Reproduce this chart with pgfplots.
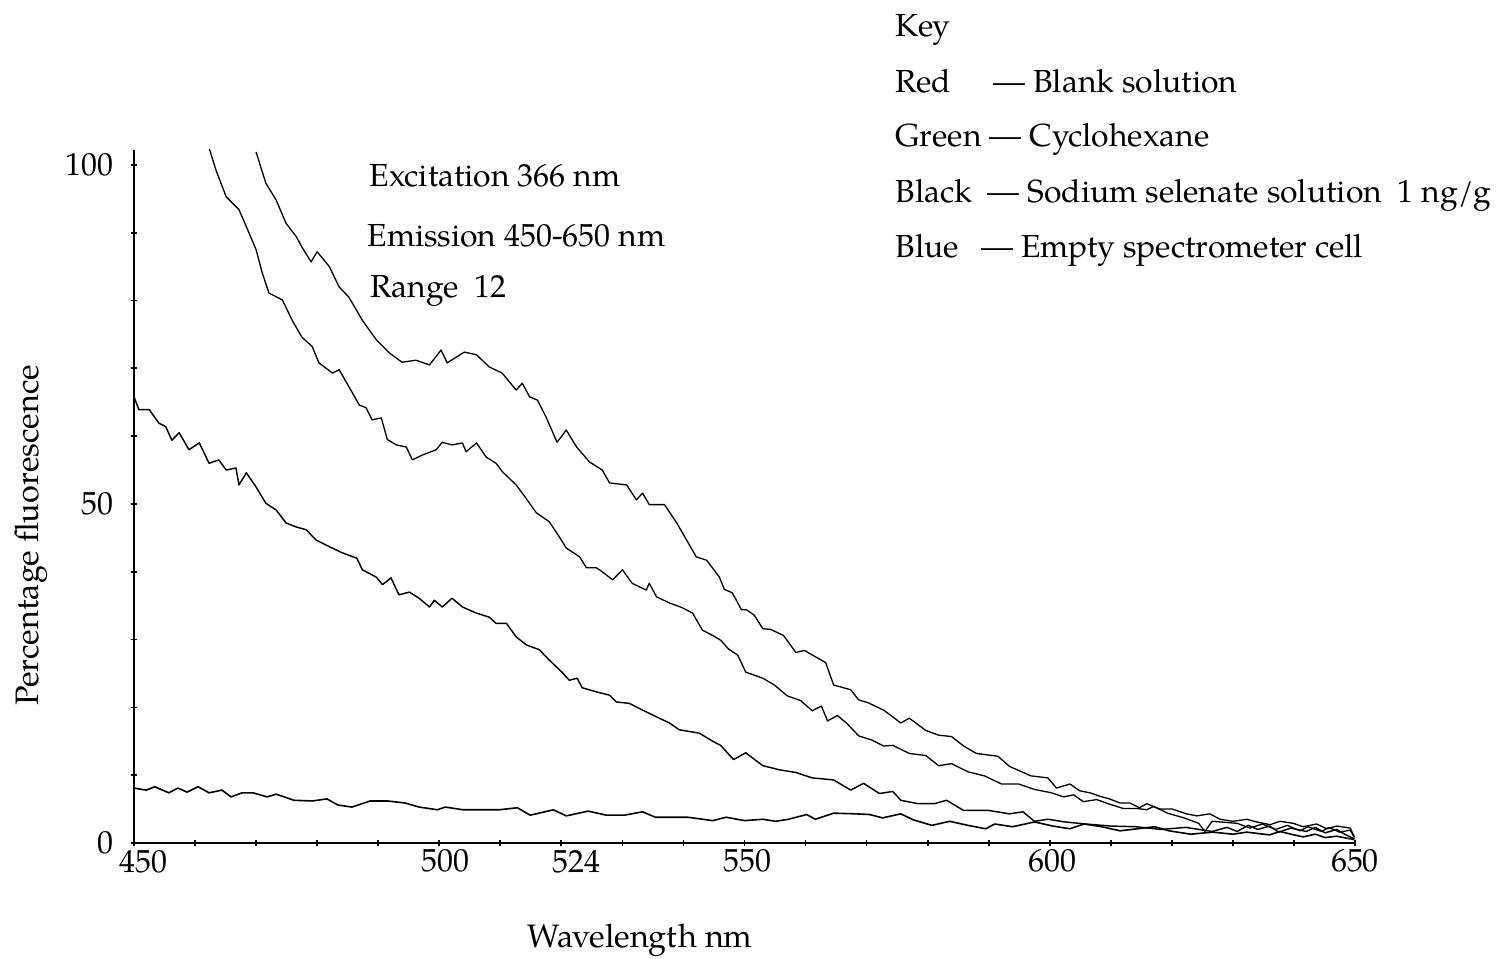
\documentclass[border=0pt]{standalone}
\usepackage{fontspec}
\setmainfont{texgyrepagella}[Extension=.otf,UprightFont=*-regular,BoldFont=*-bold,ItalicFont=*-italic,BoldItalicFont=*-bolditalic]
\usepackage{pgfplots}
\usepackage{pgfplotstable}
\pgfplotsset{compat=1.18}

\pgfplotstableread{
x y
470.0 101.9
471.6 97.3
473.3 94.8
474.9 91.4
476.6 89.4
477.5 87.9
479.0 85.7
480.0 87.2
482.0 85.0
483.6 82.0
485.2 80.5
487.4 77.1
489.7 74.2
491.8 72.3
493.9 70.9
496.2 71.2
498.4 70.5
500.3 72.7
501.3 70.8
504.1 72.4
506.1 72.0
508.2 70.2
510.3 69.3
512.6 66.8
513.6 67.8
514.8 65.8
516.1 65.3
517.5 62.8
519.3 59.1
520.8 60.9
522.5 58.4
524.6 56.2
526.7 55.0
527.9 53.1
530.7 52.8
532.3 50.6
533.3 51.6
534.4 49.9
536.9 49.9
538.9 47.2
540.5 44.7
542.1 42.2
543.8 41.7
545.9 39.2
546.7 37.4
548.0 36.9
549.5 34.4
550.3 34.4
551.6 33.6
553.0 31.6
554.3 31.5
556.4 30.6
558.4 28.1
559.8 28.4
563.3 26.6
564.6 23.3
567.4 22.6
568.7 21.1
570.2 20.7
572.8 19.6
575.6 17.7
577.0 18.4
579.7 16.6
581.8 15.9
583.9 15.7
585.9 14.3
588.0 13.2
591.5 12.8
593.4 11.3
596.9 9.9
599.7 9.6
601.1 8.1
603.3 8.7
604.9 7.7
606.6 7.4
608.2 6.9
609.8 6.5
611.5 5.9
613.1 5.9
614.7 5.2
615.9 5.8
618.0 5.0
620.1 5.0
622.4 4.3
624.1 4.0
626.2 4.3
627.9 3.5
630.0 3.2
632.3 3.5
633.9 3.1
636.1 2.7
637.7 3.2
639.9 2.9
641.5 2.4
643.7 2.8
645.4 2.1
647.0 2.5
649.2 2.2
649.9 0.9
}\curveA

\pgfplotstableread{
x y
462.3 102.5
463.4 99.3
465.1 95.3
467.2 93.4
468.4 90.9
470.0 87.5
471.0 84.1
472.1 81.1
474.3 80.1
475.9 77.1
477.5 74.6
479.2 73.2
480.3 70.8
482.5 69.3
483.6 69.8
485.2 67.3
486.9 64.6
488.0 64.2
489.0 62.4
490.5 62.7
491.5 59.5
493.0 58.7
494.6 58.4
495.6 56.5
497.2 57.2
499.5 58.0
500.5 59.1
502.1 58.7
503.8 59.0
504.4 57.7
506.1 59.0
507.7 56.9
509.3 56.0
510.3 54.8
512.6 52.8
513.6 51.6
515.9 48.7
518.0 47.4
519.7 45.1
520.8 43.5
523.0 42.2
524.1 40.6
525.7 40.6
526.7 40.0
528.4 38.8
530.0 40.3
531.6 38.3
533.9 37.3
534.4 38.3
535.6 36.3
537.7 35.4
539.8 34.7
541.5 33.9
543.1 31.4
544.8 30.6
546.1 29.9
547.4 28.6
548.9 27.7
550.2 25.2
553.0 24.3
554.9 23.3
557.0 21.7
559.2 21.0
561.1 19.5
562.6 20.2
563.6 18.0
565.2 18.8
566.7 17.7
568.7 15.8
570.8 15.2
572.8 14.3
574.3 14.4
577.0 13.2
579.7 12.9
581.8 11.4
583.9 11.7
586.6 10.5
589.3 9.9
592.1 8.7
594.9 8.7
597.5 7.9
600.3 7.4
602.3 6.8
603.9 7.1
605.5 6.1
607.7 6.4
609.9 5.7
612.0 5.1
614.2 5.1
615.9 4.9
617.0 5.4
619.3 4.4
622.0 3.7
624.4 2.9
625.4 1.7
626.6 3.2
630.7 2.9
632.8 2.2
634.8 2.8
637.0 2.0
638.9 2.6
641.0 1.8
642.3 2.4
644.5 1.7
645.7 2.3
647.5 1.6
649.2 1.9
649.9 0.8
}\curveB

\pgfplotstableread{
x y
450.0 65.8
450.8 63.9
452.5 63.9
454.1 61.9
455.2 61.4
456.2 59.4
457.4 60.5
459.0 58.0
460.7 59.0
462.3 56.0
463.9 56.5
465.1 55.0
466.7 55.3
467.2 52.8
468.4 54.6
470.0 52.5
471.6 50.1
473.3 49.1
474.9 47.2
476.6 46.6
478.2 46.2
479.8 44.7
482.0 43.7
484.1 42.8
486.5 42.0
487.4 40.3
489.7 39.2
490.7 38.1
492.1 39.1
493.4 36.6
495.1 37.0
496.7 36.1
498.4 34.8
499.2 35.8
500.5 34.8
502.1 36.1
503.8 34.8
506.1 33.9
508.2 33.3
509.3 32.4
511.0 32.4
512.6 30.4
514.3 29.2
516.4 28.5
518.0 27.0
520.2 25.1
521.3 24.0
522.6 24.3
523.4 22.9
525.7 22.3
527.9 21.8
529.0 20.8
531.1 20.6
533.3 19.6
535.6 18.6
537.7 17.7
539.3 16.7
542.6 16.2
544.8 15.0
546.1 14.4
548.2 12.3
550.2 13.3
553.0 11.4
555.7 10.8
558.4 10.4
561.1 9.6
564.6 9.3
567.4 7.8
569.5 8.8
572.1 7.3
574.3 7.6
575.6 6.3
578.4 5.8
581.1 5.8
583.1 6.3
585.9 4.8
590.0 4.8
593.4 4.3
595.6 4.6
597.5 3.2
599.7 3.5
602.5 3.1
605.9 2.8
610.0 2.5
614.1 2.4
618.2 2.0
622.3 2.3
626.6 1.7
629.0 2.3
630.7 1.7
632.5 2.6
634.1 2.0
636.0 2.5
637.5 1.6
639.5 2.2
642.0 1.7
643.5 2.3
645.1 1.5
647.0 2.0
648.5 1.2
649.9 0.6
}\curveC

\pgfplotstableread{
x y
450.0 8.1
452.0 7.8
453.4 8.3
455.7 7.4
457.2 8.1
458.7 7.5
460.5 8.3
462.3 7.4
464.4 7.8
465.9 6.8
467.7 7.4
469.5 7.4
471.8 6.8
473.3 7.2
476.2 6.3
479.2 6.2
481.6 6.5
483.4 5.6
485.7 5.3
488.7 6.2
491.5 6.2
494.4 5.9
496.7 5.3
499.7 4.9
501.0 5.3
503.9 4.9
506.9 4.9
509.8 4.9
512.8 5.2
514.9 4.1
518.7 4.9
520.8 4.0
524.4 4.7
527.4 4.1
530.3 4.1
533.3 4.6
535.4 3.8
537.7 3.8
540.7 3.8
544.8 3.3
547.0 3.8
550.0 3.3
553.0 3.5
555.1 3.2
557.2 3.5
560.2 4.2
561.6 3.5
564.6 4.4
568.2 4.3
570.5 4.2
572.6 3.7
575.6 4.3
577.7 3.4
580.7 2.6
583.6 3.2
586.6 2.6
589.5 2.1
591.0 2.8
593.9 2.4
597.5 3.1
600.5 2.5
603.3 2.1
605.6 2.8
608.5 2.4
611.5 1.8
614.4 2.1
617.2 2.4
619.5 1.8
623.1 1.3
626.7 1.6
630.0 1.3
632.3 1.6
634.1 1.4
636.0 1.2
637.7 1.7
639.5 1.3
641.5 0.9
643.5 1.3
645.1 0.8
647.0 1.0
648.7 0.7
649.9 0.5
}\curveD

\begin{document}
\begin{tikzpicture}[font=\fontsize{11}{13}\selectfont]
\path[use as bounding box] (-46.23pt,-40.02pt) rectangle (475.07pt,290.84pt);
\begin{axis}[
  at={(0pt,0pt)}, anchor=south west,
  scale only axis,
  width=421.245pt, height=239.085pt,
  xmin=450, xmax=650, ymin=0, ymax=102.2,
  axis x line=bottom, axis y line=left,
  axis line style={-, line width=0.7pt, black},
  xtick={451.5,501,522.5,550.5,600.5,650},
  xticklabels={450,500,524,550,600,650},
  ytick={0,50,100},
  yticklabels={0,50,100},
  minor xtick={450,460,...,650},
  minor ytick={0,10,...,100},
  major tick length=0pt,
  minor tick length=2.4pt,
  tick align=center,
  tick style={line width=0.6pt, black},
  /pgf/number format/assume math mode=true,
  tick label style={font=\fontsize{11}{13}\selectfont},
  xticklabel style={anchor=north, inner sep=0pt, yshift=-2.2pt},
  yticklabel style={anchor=east, inner sep=0pt, xshift=-7pt},
  xlabel={Wavelength nm},
  ylabel={Percentage fluorescence},
  label style={font=\fontsize{11.2}{13}\selectfont},
  xlabel style={at={(axis description cs:0.4144,-0.1515)}, anchor=base, inner sep=0pt},
  ylabel style={at={(axis description cs:-0.0786,0.444)}, anchor=base, inner sep=0pt},
]
\addplot[black, line width=0.45pt, line join=round, mark=none] table[x=x,y=y] {\curveA};
\addplot[black, line width=0.45pt, line join=round, mark=none] table[x=x,y=y] {\curveB};
\addplot[black, line width=0.5pt, line join=round, mark=none] table[x=x,y=y] {\curveC};
\addplot[black, line width=0.55pt, line join=round, mark=none] table[x=x,y=y] {\curveD};
\end{axis}
\begin{scope}[every node/.style={anchor=base west, inner sep=0pt}]
\node at (81.08pt,226.32pt) {Excitation 366 nm};
\node at (80.39pt,205.62pt) {Emission 450-650 nm};
\node at (81.42pt,188.03pt) {Range\ \ 12};
\node at (262.55pt,278.07pt) {Key};
\node at (262.55pt,258.75pt) {Red};
\node at (296.36pt,258.75pt) {\textemdash\ Blank solution};
\node at (262.55pt,240.12pt) {Green};
\node at (294.98pt,240.12pt) {\textemdash\ Cyclohexane};
\node at (262.55pt,220.80pt) {Black};
\node at (294.29pt,220.80pt) {\textemdash\ Sodium selenate solution\ \ 1 ng/g};
\node at (262.55pt,201.83pt) {Blue};
\node at (292.22pt,201.83pt) {\textemdash\ Empty spectrometer cell};
\end{scope}
\end{tikzpicture}
\end{document}
